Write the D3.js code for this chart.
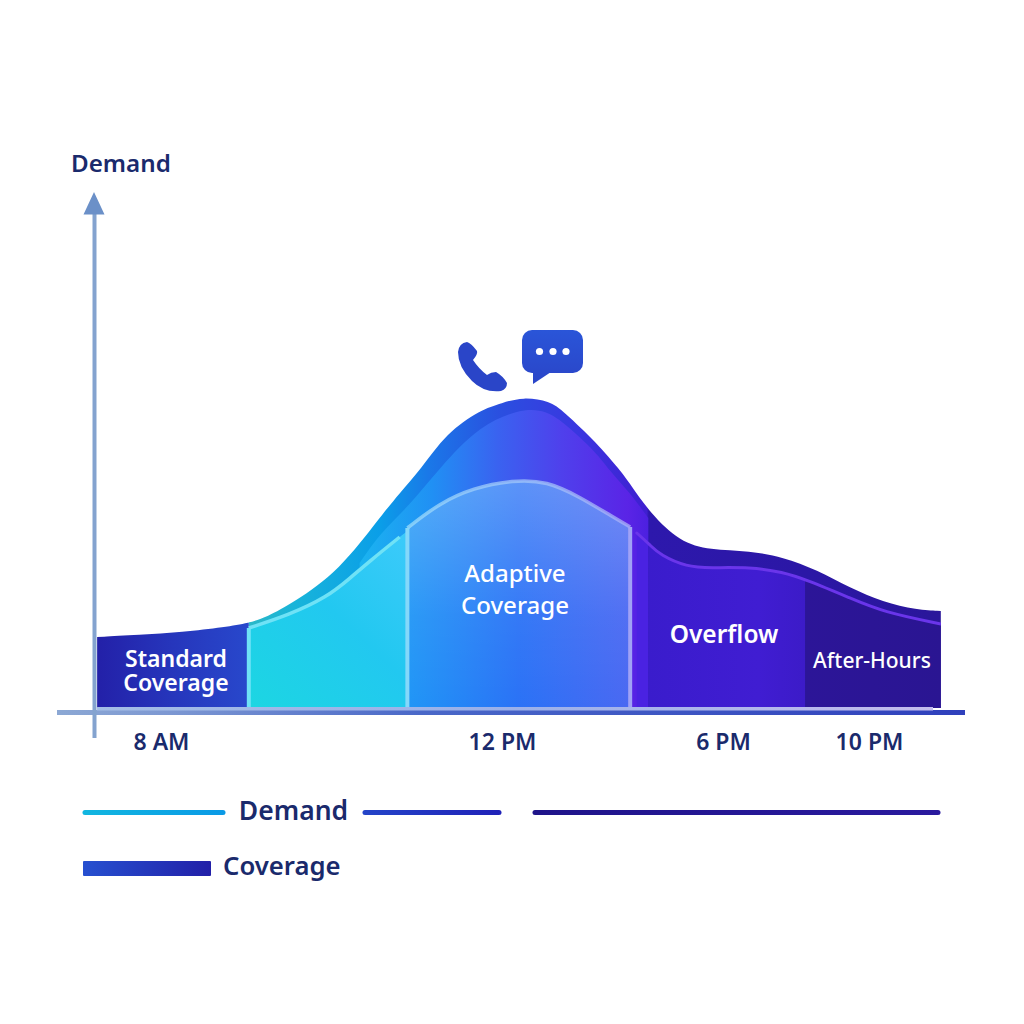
<!DOCTYPE html>
<html>
<head>
<meta charset="utf-8">
<script src="https://cdn.jsdelivr.net/npm/d3@7"></script>
<style>
  html, body { margin: 0; background: #fff; }
  svg { display: block; }
  text { font-family: "Noto Sans", sans-serif; font-weight: 600; }
</style>
</head>
<body>
<svg id="chart" width="1024" height="1024"></svg>
<script>
// Clock hours and demand level along the day
const tickHours = [8, 12, 18, 22];
const tickLabels = ["8 AM", "12 PM", "6 PM", "10 PM"];
const demandHours = [7.25, 7.74, 8.25, 8.75, 9.03, 9.24, 9.55, 10.1, 10.57, 10.8, 11.04, 11.35, 11.74, 12, 12.57, 13.3, 13.66, 14.58, 15.2, 15.48, 16.02, 16.83, 17.64, 18.74, 19.64, 20.58, 21.48, 22.38, 23.31, 23.97];
const demandValues = [14.2, 14.6, 15.2, 16.2, 17, 18.2, 21, 27.6, 38.2, 43, 47.6, 55, 59.6, 61, 62.2, 61.4, 59.4, 53, 47.6, 44.8, 39, 33.2, 31.6, 31.4, 30.2, 27.6, 24, 21.2, 19.6, 19.4];

// Load carried under the envelope through the midday period
const carriedHours = [10.33, 10.57, 10.9, 11.27, 11.74, 12.57, 13.2, 13.66, 14.58, 14.9, 15.48, 15.97];
const carriedValues = [29, 35, 40.2, 48, 56.6, 60, 59.4, 57.2, 51, 47.6, 43, 38];

// Evening ridge: load carried after the peak
const ridgeHours = [15.66, 16.02, 16.29, 17.02, 17.65, 18.74, 19.64, 20.3, 21.48, 22.38, 23.97];
const ridgeValues = [35, 32.6, 30.6, 28.2, 28, 28.2, 27.2, 25.6, 22, 19.2, 16.8];

// Ramp-up coverage ahead of the adaptive block
const rampHours = [9.03, 9.5, 9.95, 10.22, 10.45, 10.8, 10.89];
const rampValues = [16, 18.6, 22.2, 26, 29.4, 34.2, 35.4];

// Adaptive coverage arch
const adaptiveHours = [10.89, 11.27, 11.66, 12.3, 13.22, 14.12, 15.01, 15.48];
const adaptiveValues = [36, 41, 44, 45.6, 45.4, 42.2, 38.2, 36.2];

// Shift boundaries
const dayStart = 7.25, rampStart = 9.03, adaptiveStart = 10.89, adaptiveEnd = 15.48, overflowStart = 15.97, afterStart = 20.25, dayEnd = 23.97;

const svg = d3.select("#chart");
const defs = svg.append("defs");

const x = d3.scaleLinear().domain(tickHours).range([161, 502, 723, 869]);
const y = d3.scaleLinear().domain([0, 100]).range([708, 208]);

const zip = (hs, vs) => hs.map((h, i) => ({ h, v: vs[i] }));
const demand = zip(demandHours, demandValues);
const carried = zip(carriedHours, carriedValues);
const ridge = zip(ridgeHours, ridgeValues);
const ramp = zip(rampHours, rampValues);
const adaptive = zip(adaptiveHours, adaptiveValues);

const curve = d3.curveBasis;
const area = d3.area().x(d => x(d.h)).y0(y(0)).y1(d => y(d.v)).curve(curve);
const line = d3.line().x(d => x(d.h)).y(d => y(d.v)).curve(curve);

function gradient(id, x1, y1, x2, y2, stops) {
  const g = defs.append("linearGradient").attr("id", id)
    .attr("gradientUnits", "userSpaceOnUse")
    .attr("x1", x1).attr("y1", y1).attr("x2", x2).attr("y2", y2);
  stops.forEach(([o, c, a]) => {
    const s = g.append("stop").attr("offset", o).attr("stop-color", c);
    if (a !== undefined) s.attr("stop-opacity", a);
  });
  return `url(#${id})`;
}

function clipTo(id, h0, h1) {
  defs.append("clipPath").attr("id", id).append("rect")
    .attr("x", x(h0)).attr("width", x(h1) - x(h0)).attr("y", 0).attr("height", y(0));
  return `url(#${id})`;
}

const span = (h0, h1, stops, id) => gradient(id, x(h0), 0, x(h1), 0, stops);

// Demand envelope
svg.append("path").datum(demand).attr("d", area)
  .attr("clip-path", clipTo("clip-env", rampStart, dayEnd))
  .attr("fill", gradient("g-env", x(rampStart), 0, x(dayEnd), 0, [
    [0, "#2ab8c8"], [0.07, "#18b4da"], [0.19, "#0a9ee8"], [0.26, "#1a78e8"], [0.36, "#2a50e0"],
    [0.48, "#3a35e0"], [0.575, "#3f1fd0"], [0.578, "#2d18ac"], [0.8, "#2b17a6"], [1, "#2a169a"]
  ]));

// Standard coverage block
svg.append("path").datum(demand).attr("d", area)
  .attr("clip-path", clipTo("clip-std", dayStart, rampStart))
  .attr("fill", span(dayStart, rampStart, [[0, "#2320a8"], [0.5, "#2636bc"], [1, "#2848cc"]], "g-std"));

// Carried load, one fill per period
svg.append("path").datum(carried).attr("d", area)
  .attr("fill", gradient("g-mid", 360, 0, 648, 0, [
    [0, "#1ab4f0"], [0.25, "#2090f4"], [0.48, "#3a62f0"], [0.7, "#4f40ec"], [0.93, "#5a24e6"], [1, "#4c20e0"]
  ]));
svg.append("path").datum(ridge).attr("d", area)
  .attr("clip-path", clipTo("clip-sliver", adaptiveEnd, overflowStart))
  .attr("fill", "#4a22e2");
svg.append("path").datum(ridge).attr("d", area)
  .attr("clip-path", clipTo("clip-over", overflowStart, afterStart))
  .attr("fill", span(overflowStart, afterStart, [[0, "#3a1ccc"], [0.7, "#401dd2"], [1, "#3c1bc8"]], "g-over"));
svg.append("path").datum(ridge).attr("d", area)
  .attr("clip-path", clipTo("clip-after", afterStart, dayEnd))
  .attr("fill", span(afterStart, dayEnd, [[0, "#2c1598"], [1, "#2a1592"]], "g-after"));

// Purple ridge tracing the carried load through the evening
svg.append("path").datum(ridge).attr("d", line)
  .attr("clip-path", clipTo("clip-ridge", 15.6, dayEnd))
  .attr("fill", "none").attr("stroke", "#6a35ea").attr("stroke-width", 3)
  .attr("stroke-linecap", "round");

// Ramp-up coverage
svg.append("path").datum(ramp).attr("d", area)
  .attr("fill", gradient("g-ramp", x(rampStart), y(0), x(adaptiveStart), y(34), [
    [0, "#1cd6e2"], [0.55, "#22c8f0"], [1, "#3ccafa"]
  ]));
svg.append("path").datum(ramp.slice(0, 6)).attr("d", line)
  .attr("fill", "none").attr("stroke", "#6fe2f6").attr("stroke-width", 3.5);
svg.append("line")
  .attr("x1", x(rampStart)).attr("x2", x(rampStart)).attr("y1", y(16)).attr("y2", y(0))
  .attr("stroke", "#6fe2f6").attr("stroke-width", 4);

// Adaptive coverage arch
svg.append("path").datum(adaptive).attr("d", area)
  .attr("fill", span(adaptiveStart, adaptiveEnd, [[0, "#2096f6"], [0.5, "#2a72f6"], [1, "#4a68f2"]], "g-ada"));
svg.append("path").datum(adaptive).attr("d", area)
  .attr("fill", gradient("g-ada-top", 0, y(46), 0, y(0), [
    [0, "#ffffff", 0.24], [0.6, "#ffffff", 0.05], [1, "#ffffff", 0]
  ]));
svg.append("path").datum(adaptive).attr("d", line)
  .attr("fill", "none").attr("stroke-width", 3.5).attr("stroke-opacity", 0.75)
  .attr("stroke", span(adaptiveStart, adaptiveEnd, [[0, "#9adcfb"], [1, "#aab0f8"]], "g-arch"));
[[adaptiveStart, adaptiveValues[0], "#84d8fa"], [adaptiveEnd, adaptiveValues[adaptiveValues.length - 1], "#a0a2f6"]].forEach(([h, v, c]) => {
  svg.append("line").attr("x1", x(h)).attr("x2", x(h)).attr("y1", y(v)).attr("y2", y(0))
    .attr("stroke", c).attr("stroke-width", 4);
});

// Axes
const xAxisY = 712.5;
svg.append("line").attr("x1", 57).attr("x2", 965).attr("y1", xAxisY).attr("y2", xAxisY)
  .attr("stroke", gradient("g-axis", 57, 0, 965, 0, [[0, "#8ca8d4"], [0.12, "#7d98d2"], [0.4, "#4a68c8"], [1, "#2f40bc"]]))
  .attr("stroke-width", 5);
svg.append("line").attr("x1", x(dayStart)).attr("x2", 933).attr("y1", 708.8).attr("y2", 708.8)
  .attr("stroke", gradient("g-strip", 97, 0, 933, 0, [[0, "#a4bde6"], [0.5, "#9ab0ea"], [1, "#c4bcee"]]))
  .attr("stroke-width", 3.6);

svg.append("line").attr("x1", 94.5).attr("x2", 94.5).attr("y1", 212).attr("y2", 738)
  .attr("stroke", "#84a3cf").attr("stroke-width", 4);
svg.append("path").attr("d", "M94,192L104.500,214.500L83.500,214.500Z").attr("fill", "#6b90c8");

const axis = d3.axisBottom(x).tickValues(tickHours).tickFormat((d, i) => tickLabels[i]).tickSize(0);
const axisG = svg.append("g").attr("transform", `translate(0,${xAxisY})`).call(axis);
axisG.select(".domain").remove();
axisG.selectAll("text")
  .attr("y", 37.5).attr("dy", 0)
  .style("font-family", '"Noto Sans", sans-serif').style("font-size", "23px").style("font-weight", 600)
  .attr("fill", "#1a2a6c");

// Labels
const ink = "#1a2a6c";
function label(lines, px, py, size, fill, anchor = "middle", weight = 600, leading = 0) {
  const t = svg.append("text").attr("text-anchor", anchor).attr("font-size", size)
    .attr("fill", fill).style("font-weight", weight);
  [].concat(lines).forEach((s, i) => {
    t.append("tspan").text(s).attr("x", px).attr("y", py + i * leading);
  });
}

label("Demand", 71, 172, 24.2, ink, "start");
label(["Standard", "Coverage"], 176, 667, 23, "#fff", "middle", 600, 24);
label(["Adaptive", "Coverage"], 515, 582, 24, "#fff", "middle", 500, 32);
label("Overflow", 724, 643, 24.5, "#fff");
label("After-Hours", 872, 668, 21, "#fff", "middle", 500);

// Legend
const legendLines = [
  { x1: 85, x2: 223, c0: "#12b6e0", c1: "#0a9ae6" },
  { x1: 365, x2: 499, c0: "#2444c8", c1: "#2022b8" },
  { x1: 535, x2: 938, c0: "#1f148a", c1: "#2a1a9e" }
];
legendLines.forEach((l, i) => {
  svg.append("line").attr("x1", l.x1).attr("x2", l.x2).attr("y1", 812.5).attr("y2", 812.5)
    .attr("stroke", gradient(`g-leg${i}`, l.x1, 0, l.x2, 0, [[0, l.c0], [1, l.c1]]))
    .attr("stroke-width", 5).attr("stroke-linecap", "round");
});
label("Demand", 293.5, 820, 26.5, ink);
svg.append("rect").attr("x", 83).attr("y", 861).attr("width", 128).attr("height", 15).attr("rx", 1)
  .attr("fill", gradient("g-legc", 83, 0, 211, 0, [[0, "#2650d0"], [1, "#2220a8"]]));
label("Coverage", 223, 875, 25.7, ink, "start");

// Phone and chat icons above the peak
svg.append("path")
  .attr("d", "M458,352Q459,343 467,342Q471,343 477,351Q478,354 473,360Q479,369 487,375Q491,372 496,372Q503,376 507,383Q507,389 501,391Q484,393 472,381Q458,367 458,352Z")
  .attr("fill", "#2a45c8");
const bubbleFill = gradient("g-bubble", 0, 330, 0, 384, [[0, "#2a55d8"], [1, "#2a45c8"]]);
svg.append("rect").attr("x", 522).attr("y", 330).attr("width", 61).attr("height", 43).attr("rx", 10).attr("fill", bubbleFill);
svg.append("path").attr("d", "M533,368L533,384L551,372Z").attr("fill", bubbleFill);
svg.selectAll("circle.dot").data([539.5, 553, 566]).enter().append("circle")
  .attr("class", "dot").attr("cx", d => d).attr("cy", 351.5).attr("r", 3.6).attr("fill", "#fff");
</script>
</body>
</html>
